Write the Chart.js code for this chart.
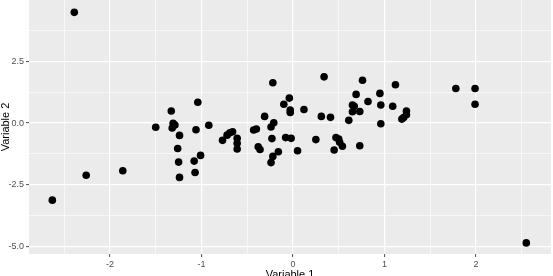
<!DOCTYPE html>
<html>
<head>
<meta charset="utf-8">
<script src="https://cdn.jsdelivr.net/npm/chart.js@4/dist/chart.umd.min.js"></script>
<style>
    html, body { margin: 0; padding: 0; background: #fff; overflow: hidden; }
    #plot { display: block; }
</style>
</head>
<body>
<canvas id="plot" width="553" height="284"></canvas>
<script>
// values (Variable 1, Variable 2)
const variable1 = [
    -2.39, -2.63, -2.26, -1.86, -1.50, -1.33, -1.31, -1.29, -1.32, -1.24,
    -1.06, -1.04, -0.92, -1.26, -1.25, -1.24, -1.08, -1.01, -1.07, -0.77,
    -0.72, -0.69, -0.66, -0.61, -0.61, -0.61, -0.43, -0.40, -0.38, -0.36,
    -0.31, -0.22, -0.21, -0.24, -0.23, -0.16, -0.22, -0.24, -0.10, -0.04,
    -0.03, -0.03, -0.08, -0.02, 0.05, 0.12, 0.25, 0.31, 0.41, 0.34,
    0.45, 0.47, 0.50, 0.51, 0.54, 0.61, 0.65, 0.73, 0.65, 0.67,
    0.69, 0.73, 0.76, 0.82, 0.95, 0.96, 0.96, 1.09, 1.12, 1.24,
    1.24, 1.21, 1.19, 1.78, 1.99, 1.99, 2.55
];
const variable2 = [
    4.48, -3.12, -2.11, -1.93, -0.17, 0.49, -0.01, -0.08, -0.20, -0.50,
    -0.27, 0.84, -0.09, -1.03, -1.58, -2.20, -1.54, -1.31, -2.00, -0.70,
    -0.49, -0.39, -0.35, -0.62, -0.82, -1.05, -0.28, -0.24, -0.96, -1.07,
    0.27, 1.63, 0.01, -0.16, -0.63, -1.16, -1.35, -1.60, 0.76, 1.01,
    0.53, 0.43, -0.59, -0.62, -1.12, 0.55, -0.67, 0.27, 0.23, 1.87,
    -1.09, -0.59, -0.65, -0.78, -0.94, 0.11, 0.46, 0.47, 0.73, 0.68,
    1.16, -0.92, 1.73, 0.87, 1.20, 0.73, -0.03, 0.68, 1.55, 0.49,
    0.34, 0.22, 0.16, 1.40, 1.40, 0.76, -4.85
];

const xMajor = [-2, -1, 0, 1, 2];
const xMinor = [-2.5, -1.5, -0.5, 0.5, 1.5, 2.5];
const yMajor = [-5, -2.5, 0, 2.5];
const yMinor = [-3.75, -1.25, 1.25, 3.75];

const xLimits = [-2.885, 2.82];
const yLimits = [-5.30, 4.98];

const points = variable1.map((x, i) => ({ x: x, y: variable2[i] }));

const panelBackground = {
    id: 'panelBackground',
    beforeDraw(chart) {
        const { ctx, chartArea } = chart;
        ctx.save();
        ctx.fillStyle = '#ebebeb';
        ctx.fillRect(chartArea.left, chartArea.top, chartArea.right - chartArea.left, chartArea.bottom - chartArea.top);
        ctx.restore();
    }
};

const isMajor = (list, value) => list.some(v => Math.abs(v - value) < 1e-6);

function gridFor(major) {
    return {
        color: '#ffffff',
        lineWidth: ctx => isMajor(major, ctx.tick.value) ? 1.2 : 0.6,
        drawTicks: true,
        tickLength: 3,
        tickColor: ctx => isMajor(major, ctx.tick.value) ? '#4d4d4d' : 'rgba(0,0,0,0)',
        tickWidth: 1
    };
}

// no extra room for the end labels, the panel runs to the edges like ggplot's
function noMargins(scale) {
    scale.paddingTop = 0;
    scale.paddingBottom = 0;
    scale.paddingLeft = 0;
    scale.paddingRight = 0;
}

new Chart(document.getElementById('plot'), {
    type: 'scatter',
    data: {
        datasets: [{
            data: points,
            backgroundColor: '#000000',
            borderWidth: 0,
            pointRadius: 3.8,
            pointHoverRadius: 3.8
        }]
    },
    plugins: [panelBackground],
    options: {
        responsive: false,
        animation: false,
        devicePixelRatio: 1,
        layout: { autoPadding: false, padding: { top: 0, right: 2, bottom: 0, left: 0 } },
        plugins: {
            legend: { display: false },
            tooltip: { enabled: false }
        },
        scales: {
            x: {
                type: 'linear',
                min: xLimits[0],
                max: xLimits[1],
                afterBuildTicks: scale => {
                    scale.ticks = [...xMajor, ...xMinor].sort((a, b) => a - b).map(v => ({ value: v }));
                },
                afterFit: scale => { scale.height = 30; noMargins(scale); },
                border: { display: false },
                grid: gridFor(xMajor),
                ticks: {
                    autoSkip: false,
                    maxRotation: 0,
                    padding: 2,
                    color: '#4d4d4d',
                    font: { family: 'Liberation Sans, Arial, sans-serif', size: 9 },
                    callback: value => isMajor(xMajor, value) ? String(value) : ''
                },
                title: {
                    display: true,
                    text: 'Variable 1',
                    color: '#000000',
                    padding: { top: 0, bottom: 2 },
                    font: { family: 'Liberation Sans, Arial, sans-serif', size: 11, lineHeight: 1.2 }
                }
            },
            y: {
                type: 'linear',
                min: yLimits[0],
                max: yLimits[1],
                afterBuildTicks: scale => {
                    scale.ticks = [...yMajor, ...yMinor].sort((a, b) => a - b).map(v => ({ value: v }));
                },
                afterFit: scale => { scale.width = 29; noMargins(scale); },
                border: { display: false },
                grid: gridFor(yMajor),
                ticks: {
                    autoSkip: false,
                    padding: 2,
                    color: '#4d4d4d',
                    font: { family: 'Liberation Sans, Arial, sans-serif', size: 9 },
                    callback: value => isMajor(yMajor, value) ? value.toFixed(1) : ''
                },
                title: {
                    display: true,
                    text: 'Variable 2',
                    color: '#000000',
                    padding: { top: 0, bottom: 0 },
                    font: { family: 'Liberation Sans, Arial, sans-serif', size: 11, lineHeight: 1 }
                }
            }
        }
    }
});
</script>
</body>
</html>
